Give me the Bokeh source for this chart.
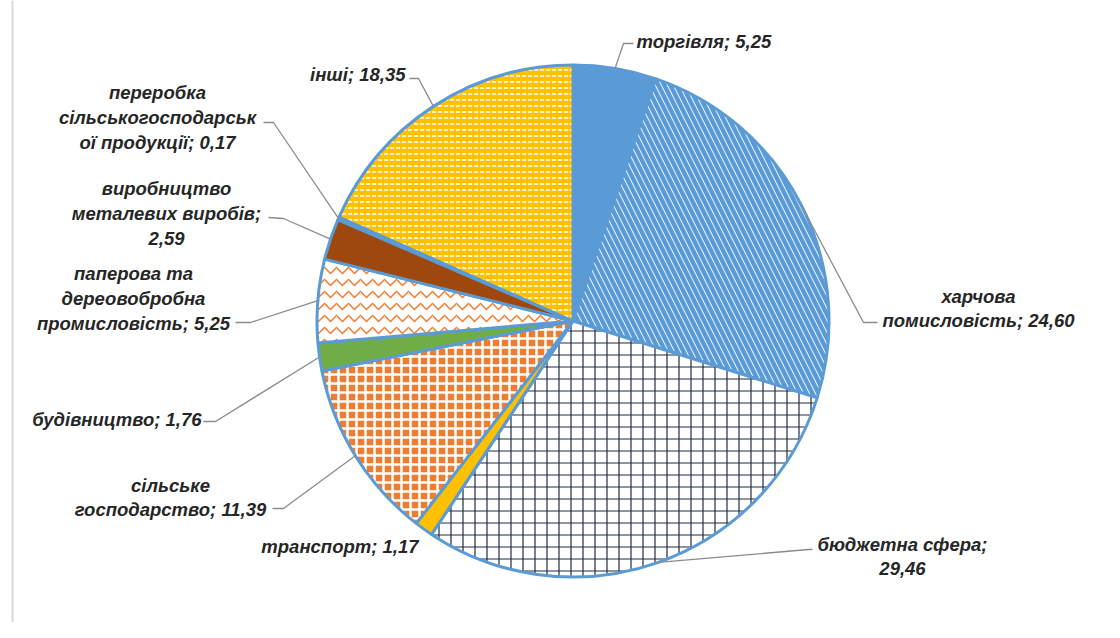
import numpy as np
from bokeh.plotting import figure
from bokeh.models import Range1d, ColumnDataSource, Span
from bokeh.core.properties import value
from bokeh.embed import file_html
from bokeh.resources import INLINE

# ---------------- data ----------------
categories = ["торгівля", "харчова помисловість", "бюджетна сфера", "транспорт",
              "сільське господарство", "будівництво",
              "паперова та дереовобробна промисловість",
              "виробництво металевих виробів",
              "переробка сільськогосподарської продукції", "інші"]
values = [5.25, 24.60, 29.46, 1.17, 11.39, 1.76, 5.25, 2.59, 0.17, 18.35]
wrapped_names = ["торгівля", "харчова\nпомисловість", "бюджетна сфера", "транспорт",
                 "сільське\nгосподарство", "будівництво",
                 "паперова та\nдереовобробна\nпромисловість",
                 "виробництво\nметалевих виробів",
                 "переробка\nсільськогосподарськ\nої продукції", "інші"]
separators = ["; ", "; ", ";\n", "; ", "; ", "; ", "; ", ";\n", "; ", "; "]

# ---------------- styles ----------------
fill_colors = ["#5B9BD5", "white", "white", "#FFC000", "#ED7D31", "#70AD47",
               "white", "#9E480E", "#7F7F7F", "#FFC000"]
hatch_patterns = [" ", "\\", "+", " ", "+", " ", "v", " ", " ", "\""]
hatch_colors = ["#5B9BD5", "#5B9BD5", "#1F2A44", "#FFC000", "white", "#70AD47",
                "#ED7D31", "#9E480E", "#7F7F7F", "white"]
hatch_weights = [1, 4.5, 1.2, 1, 2.5, 1, 1.5, 1, 1, 1.5]
hatch_scales = [8, 12, 12, 8, 9, 8, 12, 8, 8, 6]

# layout (image pixel coordinates, y downward)
CX, CY, R = 572.5, 320.5, 256.0
label_pos = [(636, 41, "left"), (978, 308, "center"), (902, 556, "center"),
             (418, 546, "right"), (170, 497, "center"), (201, 419, "right"),
             (133, 298, "center"), (166, 213, "center"), (157, 117, "center"),
             (405, 74, "right")]
leader_end = [(633, 43), (877, 322), (812, 549), None, (272, 508), (203, 421),
              (235, 322), (268, 217), (263, 122), (409, 78)]
leader_elbow = [(623, 43), (863, 322), (808, 549), None, (283, 508), (215, 421),
                (250, 322), (283, 218), (273, 122), (418, 78)]

W, H = 1104, 622
p = figure(width=W, height=H, output_backend="svg", toolbar_location=None,
           x_range=Range1d(0, W), y_range=Range1d(-H, 0),
           min_border=0, outline_line_color=None, background_fill_color="white",
           border_fill_color="white")
p.axis.visible = False
p.grid.visible = False

vals = np.array(values)
frac = vals / vals.sum()
cum = np.concatenate([[0], np.cumsum(frac)])
start = np.pi / 2 - 2 * np.pi * cum[:-1]
end = np.pi / 2 - 2 * np.pi * cum[1:]
mid_theta = 2 * np.pi * (cum[:-1] + cum[1:]) / 2  # clockwise from top

src = ColumnDataSource(dict(start=start, end=end, fill=fill_colors,
                            hp=hatch_patterns, hc=hatch_colors,
                            hw=hatch_weights, hs=hatch_scales, cat=categories))
p.wedge(x=CX, y=-CY, radius=R, start_angle="start", end_angle="end",
        direction="clock", source=src, fill_color="fill",
        hatch_pattern="hp", hatch_color="hc", hatch_weight="hw", hatch_scale="hs",
        line_color="#5B9BD5", line_width=3)

# leader lines
xs, ys = [], []
for i in range(len(values)):
    if leader_end[i] is None:
        continue
    ex = CX + R * np.sin(mid_theta[i])
    ey = CY - R * np.cos(mid_theta[i])
    xs.append([ex, leader_elbow[i][0], leader_end[i][0]])
    ys.append([-ey, -leader_elbow[i][1], -leader_end[i][1]])
p.multi_line(xs, ys, line_color="#8C8C8C", line_width=1.3)

# labels
for i in range(len(values)):
    txt = wrapped_names[i] + separators[i] + f"{values[i]:.2f}".replace(".", ",")
    lx, ly, al = label_pos[i]
    p.text(x=[lx], y=[-ly], text=[txt], text_align=al, text_baseline="middle",
           text_font=value("Liberation Sans"), text_font_style="bold italic",
           text_font_size="18.5px", text_color="#262626", text_line_height=1.17)

# left border line
p.add_layout(Span(location=12, dimension="height", line_color="#D9D9D9", line_width=2))

open("out.html", "w").write(file_html(p, INLINE))
